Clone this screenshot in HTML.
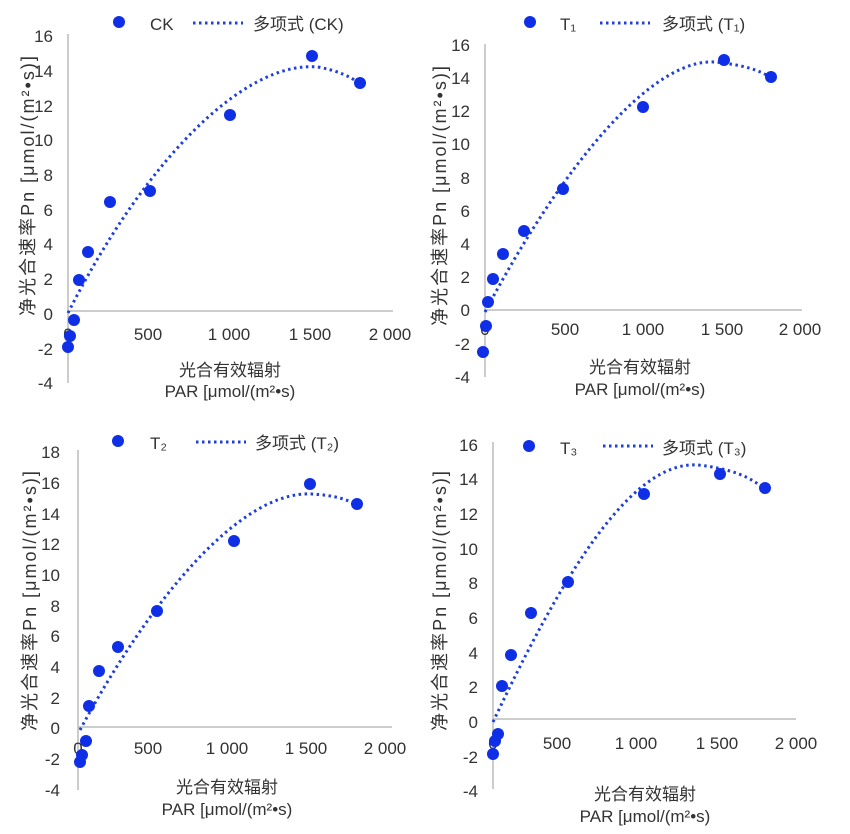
<!DOCTYPE html>
<html><head><meta charset="utf-8"><style>
body{margin:0;background:#fff}
text{font-family:"Liberation Sans","Noto Sans CJK SC",sans-serif;fill:#333}
.t{font-size:17px;text-anchor:end}
.x{font-size:17px;text-anchor:middle}
.ax{stroke:#bbb;stroke-width:1.5;fill:none}
.c{stroke:#1f3fd8;stroke-width:3;stroke-dasharray:2.5 3.5;fill:none}
.d circle{fill:#0f2fe6}
.lg{font-size:17px;fill:#333}
.yt{font-size:18px;text-anchor:middle;letter-spacing:2px}
</style></head><body>
<svg width="850" height="829" xmlns="http://www.w3.org/2000/svg">
<!-- Panel 1 CK -->
<g>
<line class="ax" x1="68" y1="34" x2="68" y2="383"/><line class="ax" x1="68" y1="311" x2="393" y2="311"/>
<g class="t"><text x="53" y="42">16</text><text x="53" y="77">14</text><text x="53" y="112">12</text><text x="53" y="146">10</text><text x="53" y="181">8</text><text x="53" y="216">6</text><text x="53" y="250">4</text><text x="53" y="285">2</text><text x="53" y="320">0</text><text x="53" y="355">-2</text><text x="53" y="389">-4</text></g>
<g class="x"><text x="68" y="340">0</text><text x="148" y="340">500</text><text x="229" y="340">1 000</text><text x="310" y="340">1 500</text><text x="390" y="340">2 000</text></g>
<path class="c" d="M68,313 C140,170 240,60 318,67 Q345,72 360,84"/>
<g class="d"><circle cx="68" cy="347" r="6"/><circle cx="70" cy="336" r="6"/><circle cx="74" cy="320" r="6"/><circle cx="79" cy="280" r="6"/><circle cx="88" cy="252" r="6"/><circle cx="110" cy="202" r="6"/><circle cx="150" cy="191" r="6"/><circle cx="230" cy="115" r="6"/><circle cx="312" cy="56" r="6"/><circle cx="360" cy="83" r="6"/></g>
<circle cx="119" cy="22" r="6" fill="#0f2fe6"/><text class="lg" x="150" y="30">CK</text>
<line class="c" x1="193" y1="23" x2="243" y2="23"/><text class="lg" x="253" y="30">多项式 (CK)</text>
<text class="x" x="230" y="376">光合有效辐射</text><text class="x" x="230" y="397">PAR [μmol/(m²•s)</text>
<text class="yt" transform="translate(34,185) rotate(-90)">净光合速率Pn [μmol/(m²•s)]</text>
</g>
<!-- Panel 2 T1 -->
<g>
<line class="ax" x1="485" y1="44" x2="485" y2="377"/><line class="ax" x1="485" y1="310" x2="802" y2="310"/>
<g class="t"><text x="470" y="51">16</text><text x="470" y="84">14</text><text x="470" y="117">12</text><text x="470" y="150">10</text><text x="470" y="184">8</text><text x="470" y="217">6</text><text x="470" y="250">4</text><text x="470" y="283">2</text><text x="470" y="316">0</text><text x="470" y="350">-2</text><text x="470" y="383">-4</text></g>
<g class="x"><text x="485" y="335">0</text><text x="565" y="335">500</text><text x="643" y="335">1 000</text><text x="722" y="335">1 500</text><text x="800" y="335">2 000</text></g>
<path class="c" d="M485,312 C560,170 650,58 715,62 Q755,66 771,78"/>
<g class="d"><circle cx="483" cy="352" r="6"/><circle cx="486" cy="326" r="6"/><circle cx="488" cy="302" r="6"/><circle cx="493" cy="279" r="6"/><circle cx="503" cy="254" r="6"/><circle cx="524" cy="231" r="6"/><circle cx="563" cy="189" r="6"/><circle cx="643" cy="107" r="6"/><circle cx="724" cy="60" r="6"/><circle cx="771" cy="77" r="6"/></g>
<circle cx="530" cy="22" r="6" fill="#0f2fe6"/><text class="lg" x="560" y="30">T₁</text>
<line class="c" x1="600" y1="23" x2="650" y2="23"/><text class="lg" x="662" y="30">多项式 (T₁)</text>
<text class="x" x="640" y="373">光合有效辐射</text><text class="x" x="640" y="395">PAR [μmol/(m²•s)</text>
<text class="yt" transform="translate(446,195) rotate(-90)">净光合速率Pn [μmol/(m²•s)]</text>
</g>
<!-- Panel 3 T2 -->
<g>
<line class="ax" x1="78" y1="450" x2="78" y2="790"/><line class="ax" x1="78" y1="727" x2="392" y2="727"/>
<g class="t"><text x="60" y="458">18</text><text x="60" y="489">16</text><text x="60" y="520">14</text><text x="60" y="550">12</text><text x="60" y="581">10</text><text x="60" y="612">8</text><text x="60" y="642">6</text><text x="60" y="673">4</text><text x="60" y="704">2</text><text x="60" y="734">0</text><text x="60" y="765">-2</text><text x="60" y="796">-4</text></g>
<g class="x"><text x="78" y="754">0</text><text x="148" y="754">500</text><text x="227" y="754">1 000</text><text x="306" y="754">1 500</text><text x="385" y="754">2 000</text></g>
<path class="c" d="M80,730 C150,600 240,490 312,494 Q345,496 357,506"/>
<g class="d"><circle cx="80" cy="762" r="6"/><circle cx="82" cy="755" r="6"/><circle cx="86" cy="741" r="6"/><circle cx="89" cy="706" r="6"/><circle cx="99" cy="671" r="6"/><circle cx="118" cy="647" r="6"/><circle cx="157" cy="611" r="6"/><circle cx="234" cy="541" r="6"/><circle cx="310" cy="484" r="6"/><circle cx="357" cy="504" r="6"/></g>
<circle cx="118" cy="441" r="6" fill="#0f2fe6"/><text class="lg" x="150" y="449">T₂</text>
<line class="c" x1="196" y1="442" x2="246" y2="442"/><text class="lg" x="255" y="449">多项式 (T₂)</text>
<text class="x" x="227" y="793">光合有效辐射</text><text class="x" x="227" y="815">PAR [μmol/(m²•s)</text>
<text class="yt" transform="translate(36,600) rotate(-90)">净光合速率Pn [μmol/(m²•s)]</text>
</g>
<!-- Panel 4 T3 -->
<g>
<line class="ax" x1="493" y1="442" x2="493" y2="789"/><line class="ax" x1="493" y1="719" x2="796" y2="719"/>
<g class="t"><text x="478" y="451">16</text><text x="478" y="485">14</text><text x="478" y="520">12</text><text x="478" y="555">10</text><text x="478" y="589">8</text><text x="478" y="624">6</text><text x="478" y="659">4</text><text x="478" y="693">2</text><text x="478" y="728">0</text><text x="478" y="763">-2</text><text x="478" y="797">-4</text></g>
<g class="x"><text x="493" y="749">0</text><text x="557" y="749">500</text><text x="636" y="749">1 000</text><text x="717" y="749">1 500</text><text x="796" y="749">2 000</text></g>
<path class="c" d="M493,722 C560,580 630,460 698,465 Q745,470 765,490"/>
<g class="d"><circle cx="493" cy="754" r="6"/><circle cx="495" cy="741" r="6"/><circle cx="498" cy="734" r="6"/><circle cx="502" cy="686" r="6"/><circle cx="511" cy="655" r="6"/><circle cx="531" cy="613" r="6"/><circle cx="568" cy="582" r="6"/><circle cx="644" cy="494" r="6"/><circle cx="720" cy="474" r="6"/><circle cx="765" cy="488" r="6"/></g>
<circle cx="529" cy="446" r="6" fill="#0f2fe6"/><text class="lg" x="560" y="454">T₃</text>
<line class="c" x1="603" y1="446" x2="653" y2="446"/><text class="lg" x="662" y="454">多项式 (T₃)</text>
<text class="x" x="645" y="800">光合有效辐射</text><text class="x" x="645" y="822">PAR [μmol/(m²•s)</text>
<text class="yt" transform="translate(446,600) rotate(-90)">净光合速率Pn [μmol/(m²•s)]</text>
</g>
</svg>
</body></html>
